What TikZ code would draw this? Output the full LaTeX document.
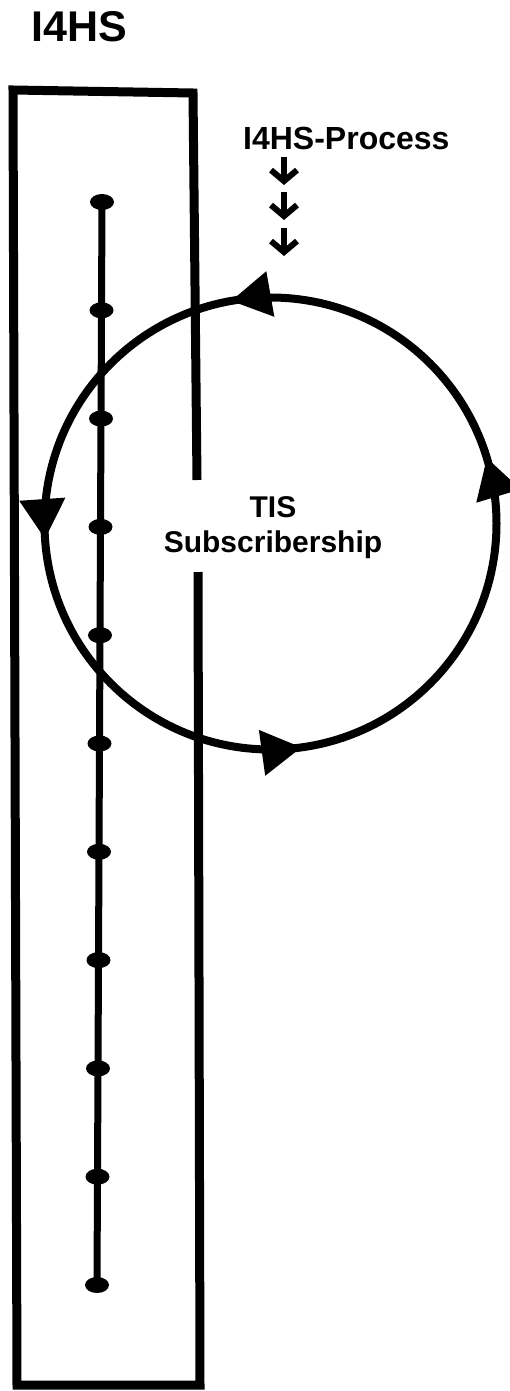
\documentclass[tikz,border=0pt]{standalone}
\usepackage{fontspec}
\setmainfont{Liberation Sans}
\usetikzlibrary{arrows.meta,decorations.markings,shapes.geometric}

\begin{document}
\begin{tikzpicture}[
    x=1pt, y=-1pt,
    lbl/.style={font=\bfseries\fontsize{32}{36}\selectfont, inner sep=0pt},
    dot/.style={ellipse, fill, minimum width=24pt, minimum height=16pt, inner sep=0pt},
    frame/.style={line width=9pt},
    ring/.style={line width=8pt, postaction={decorate}, decoration={markings,
        mark=at position 0.047 with {\arrow{Triangle[length=40pt,width=44pt]}},
        mark=at position 0.278 with {\arrow{Triangle[length=40pt,width=44pt]}},
        mark=at position 0.511 with {\arrow{Triangle[length=40pt,width=44pt]}},
        mark=at position 0.772 with {\arrow{Triangle[length=40pt,width=44pt]}}}},
    down/.style={line width=6pt, -{Straight Barb[length=11pt,width=26pt,line width=6pt]}},
]

    \useasboundingbox (0,0) rectangle (510,1391);

    \node[lbl, font=\bfseries\fontsize{43}{48}\selectfont, anchor=base west] (title) at (31,42) {I4HS};

    % frame, open on the right where the text sits
    \draw[frame] (197,480) -- (193,93) -- (13,90) -- (17,1385) -- (200,1385) -- (198,572);

    % time line
    \foreach \i in {1,...,11}
        \node[dot] (d\i) at ({102-0.5*(\i-1)}, {202+108.3*(\i-1)}) {};
    \draw[line width=7pt] (d1.center) -- (d11.center);

    % process input
    \node[lbl, anchor=base west] (proc) at (243,150) {I4HS-Process};
    \foreach \y [count=\k] in {157,192,228} {
        \coordinate (s\k) at (284,\y);
        \coordinate (t\k) at (284,\y+28);
        \draw[down] (s\k) -- (t\k);
    }

    % cycle
    \coordinate (hub) at (270.5,523.5);
    \draw[ring] (hub) ++(0:226) arc[start angle=0, end angle=-360, radius=226];
    \node[lbl, font=\bfseries\fontsize{30}{35}\selectfont, align=center] (tis) at (273,528) {TIS\\Subscribership};

\end{tikzpicture}
\end{document}
